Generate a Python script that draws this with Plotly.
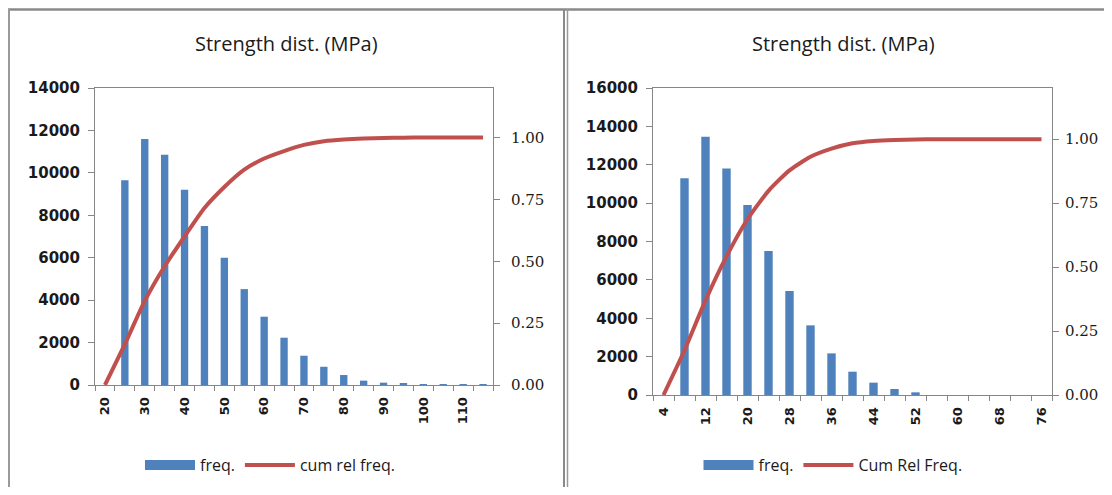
import plotly.graph_objects as go

# page body has an 8px margin; the figure is sized to fill the rest of the window
OFF = 8
W, H = 1112 - 2 * OFF, 495 - 2 * OFF

# ---- data (left chart) ----
cats_left = [20, 25, 30, 35, 40, 45, 50, 55, 60, 65, 70, 75, 80, 85, 90, 95, 100, 105, 110, 115]
freq_left = [0, 9650, 11600, 10850, 9200, 7500, 6000, 4520, 3220, 2230, 1380, 860, 470, 205, 110, 55, 40, 30, 25, 20]
cum_left = [0.0, 0.165, 0.34, 0.48, 0.60, 0.715, 0.80, 0.87, 0.915, 0.945, 0.97, 0.985, 0.992, 0.996, 0.998, 0.999, 1.0, 1.0, 1.0, 1.0]
labels_left = [20, 30, 40, 50, 60, 70, 80, 90, 100, 110]

# ---- data (right chart) ----
cats_right = [4, 8, 12, 16, 20, 24, 28, 32, 36, 40, 44, 48, 52, 56, 60, 64, 68, 72, 76]
freq_right = [0, 11290, 13460, 11810, 9900, 7500, 5420, 3630, 2170, 1215, 643, 313, 139, 0, 0, 0, 0, 0, 0]
cum_right = [0.0, 0.175, 0.37, 0.542, 0.687, 0.798, 0.878, 0.931, 0.963, 0.984, 0.993, 0.997, 0.999, 1.0, 1.0, 1.0, 1.0, 1.0, 1.0]
labels_right = [4, 12, 20, 28, 36, 44, 52, 60, 68, 76]

BLUE = "#4F81BD"
RED = "#C0504D"
AX = "#868686"
TXT = "#1a1a1a"


def px_x(v):
    return (v - OFF) / W


def px_y(v):
    return 1 - (v - OFF) / H


def bounds(cats):
    step = cats[1] - cats[0]
    return [c - step / 2 for c in cats] + [cats[-1] + step / 2]


fig = go.Figure()

# left panel
fig.add_trace(go.Bar(x=cats_left, y=freq_left, xaxis="x", yaxis="y", marker=dict(color=BLUE, line=dict(width=0)),
                     width=1.85, showlegend=False, legendgroup="fl"))
fig.add_trace(go.Scatter(x=[None], y=[None], xaxis="x", yaxis="y", mode="lines",
                         line=dict(color=BLUE, width=12), name="freq.", legend="legend", legendgroup="fl"))
fig.add_trace(go.Scatter(x=cats_left, y=cum_left, xaxis="x", yaxis="y2", mode="lines",
                         line=dict(color=RED, width=4, shape="spline", smoothing=0.6),
                         name="cum rel freq.", legend="legend"))

# right panel
fig.add_trace(go.Bar(x=cats_right, y=freq_right, xaxis="x2", yaxis="y3", marker=dict(color=BLUE, line=dict(width=0)),
                     width=1.6, showlegend=False, legendgroup="fr"))
fig.add_trace(go.Scatter(x=[None], y=[None], xaxis="x2", yaxis="y3", mode="lines",
                         line=dict(color=BLUE, width=12), name="freq.", legend="legend2", legendgroup="fr"))
fig.add_trace(go.Scatter(x=cats_right, y=cum_right, xaxis="x2", yaxis="y4", mode="lines",
                         line=dict(color=RED, width=4, shape="spline", smoothing=0.6),
                         name="Cum Rel Freq.", legend="legend2"))

xfont = dict(family="DejaVu Sans", size=13, color=TXT, weight="bold")
yfont = dict(family="DejaVu Sans", size=15, color=TXT, weight="bold")
rfont = dict(family="DejaVu Serif", size=15, color=TXT)
legfont = dict(family="Open Sans", size=16, color=TXT)
titlefont = dict(family="Open Sans", size=20, color=TXT)


def xaxis_cfg(domain, cats, labels, anchor):
    step = cats[1] - cats[0]
    return dict(domain=domain, anchor=anchor, range=[cats[0] - step / 2, cats[-1] + step / 2],
                tickmode="array", tickvals=labels, ticktext=[str(v) for v in labels],
                ticks="", tickangle=-90, tickfont=xfont, ticklabelstandoff=6,
                minor=dict(tickmode="array", tickvals=bounds(cats), ticks="outside", ticklen=5,
                           tickcolor=AX, tickwidth=1, showgrid=False),
                showline=True, linecolor=AX, linewidth=1, mirror=True, automargin=False,
                showgrid=False, zeroline=False, fixedrange=True)


def left_y(domain, anchor, top):
    return dict(domain=domain, anchor=anchor, range=[0, top], dtick=2000, tickformat="d",
                ticks="outside", ticklen=6, tickcolor=AX, tickfont=yfont, ticklabelstandoff=5,
                showline=True, linecolor=AX, showgrid=False, zeroline=False, automargin=False)


def right_y(over, anchor, standoff):
    return dict(overlaying=over, side="right", anchor=anchor, range=[0, 1.2],
                tickmode="array", tickvals=[0, 0.25, 0.5, 0.75, 1.0], tickformat=".2f",
                ticks="outside", ticklen=6, tickcolor=AX, tickfont=rfont, ticklabelstandoff=standoff,
                showline=True, linecolor=AX, showgrid=False, zeroline=False, automargin=False)


def legend_cfg(xc):
    return dict(orientation="h", x=px_x(xc), xanchor="center", y=px_y(465), yanchor="middle",
                font=legfont, itemwidth=50, bgcolor="rgba(0,0,0,0)", traceorder="normal")


def title(xc):
    return dict(text="Strength dist. (MPa)", x=px_x(xc), y=px_y(44), xref="paper", yref="paper",
                xanchor="center", yanchor="middle", showarrow=False, font=titlefont)


def vline(xp, color, width):
    return dict(type="line", xref="paper", yref="paper", x0=px_x(xp), x1=px_x(xp), y0=px_y(9), y1=px_y(500),
                line=dict(color=color, width=width))


fig.update_layout(
    template="none",
    width=W, height=H,
    margin=dict(l=0, r=0, t=0, b=0, pad=0, autoexpand=False),
    paper_bgcolor="white", plot_bgcolor="white",
    xaxis=xaxis_cfg([px_x(95), px_x(493)], cats_left, labels_left, "y"),
    yaxis=left_y([px_y(385), px_y(88)], "x", 14000),
    yaxis2=right_y("y", "x", 8),
    xaxis2=xaxis_cfg([px_x(653), px_x(1052)], cats_right, labels_right, "y3"),
    yaxis3=left_y([px_y(395), px_y(88)], "x2", 16000),
    yaxis4=right_y("y3", "x2", 3),
    legend=legend_cfg(270),
    legend2=legend_cfg(833),
    annotations=[title(286), title(843)],
    shapes=[
        dict(type="line", xref="paper", yref="paper", x0=px_x(8), x1=px_x(1120), y0=px_y(9.5), y1=px_y(9.5),
             line=dict(color="#8a8a8a", width=2.5)),
        vline(9, "#9a9a9a", 2),
        vline(564, "#8a8a8a", 2),
        vline(567.5, "#9a9a9a", 1.5),
    ],
    showlegend=True,
)

fig.write_html("out.html")
